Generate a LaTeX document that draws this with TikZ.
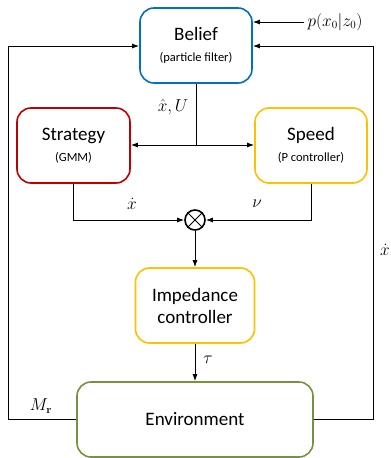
\documentclass[tikz,border=0pt]{standalone}
\usepackage{amsmath,amssymb}
\usepackage[no-math]{fontspec}
\setmainfont{Carlito}
\usetikzlibrary{arrows.meta,positioning,calc}

\definecolor{beliefblue}{RGB}{0,112,192}
\definecolor{stratred}{RGB}{192,0,0}
\definecolor{ctrlyellow}{RGB}{255,192,0}
\definecolor{envgreen}{RGB}{118,146,60}

\begin{document}
\begin{tikzpicture}[
    x=1pt, y=-1pt,
    box/.style={rectangle, draw, line width=1.6pt, rounded corners=14pt, minimum height=75pt, align=center, font=\fontsize{19}{22}\selectfont},
    arr/.style={-{Latex[length=7pt,width=5pt]}, line width=1pt},
    lbl/.style={font=\fontsize{16}{18}\selectfont}
]
    \useasboundingbox (0,0) rectangle (391,458);

    \node[box, draw=beliefblue, minimum width=112pt] (belief) at (196,45.5) {Belief\\[-1pt]{\fontsize{12.5}{14}\selectfont (particle filter)}};
    \node[box, draw=stratred, minimum width=113pt] (strategy) at (73.5,145.5) {Strategy\\[-1pt]{\fontsize{12.5}{14}\selectfont (GMM)}};
    \node[box, draw=ctrlyellow, minimum width=112pt] (speed) at (311,145.5) {Speed\\[-1pt]{\fontsize{12.5}{14}\selectfont (P controller)}};
    \node[circle, draw, line width=1.6pt, minimum size=20pt, inner sep=0pt] (mult) at (195,220) {};
    \node[box, draw=ctrlyellow, minimum width=119pt] (imp) at (195,305.5) {Impedance\\controller};
    \node[box, draw=envgreen, minimum width=236pt] (env) at (195,419.5) {Environment};

    % multiplication sign
    \draw[line width=1pt] (mult.45) -- (mult.225) (mult.135) -- (mult.315);

    % prior on the initial state
    \node[lbl, anchor=west] (prior) at (304,22) {$p(x_0|z_0)$};
    \draw[arr] (prior.west) -- (prior.west -| belief.east);

    % belief feeds both controllers
    \coordinate (split) at (belief.south |- 0,145);
    \draw[line width=1pt] (belief.south) -- (split);
    \draw[arr] (split) -- (strategy.east |- split);
    \draw[arr] (split) -- (speed.west |- split);
    \node[lbl] (est) at (173,107) {$\hat{x},U$};

    % product of direction and speed
    \draw[arr] (strategy.south) |- (mult.west);
    \draw[arr] (speed.south) |- (mult.east);
    \node[lbl] (xdot) at (132,204) {$\dot{x}$};
    \node[lbl] (nu) at (257,204) {$\nu$};

    \draw[arr] (mult.south) -- (imp.north);
    \draw[arr] (imp.south) -- (env.north -| imp.south);
    \node[lbl] (tau) at (208,360) {$\tau$};

    % feedback loops
    \coordinate (lcorner) at (8,419.5);
    \coordinate (rcorner) at (373,419.5);
    \draw[arr] (env.west) -- (lcorner) |- ($(belief.west)+(0,0.5)$);
    \draw[arr] (env.east) -- (rcorner) |- ($(belief.east)+(0,0.5)$);
    \node[lbl] (mr) at (41,406) {$M_{\mathbf{r}}$};
    \node[lbl] (xdot2) at (385,250) {$\dot{x}$};
\end{tikzpicture}
\end{document}
